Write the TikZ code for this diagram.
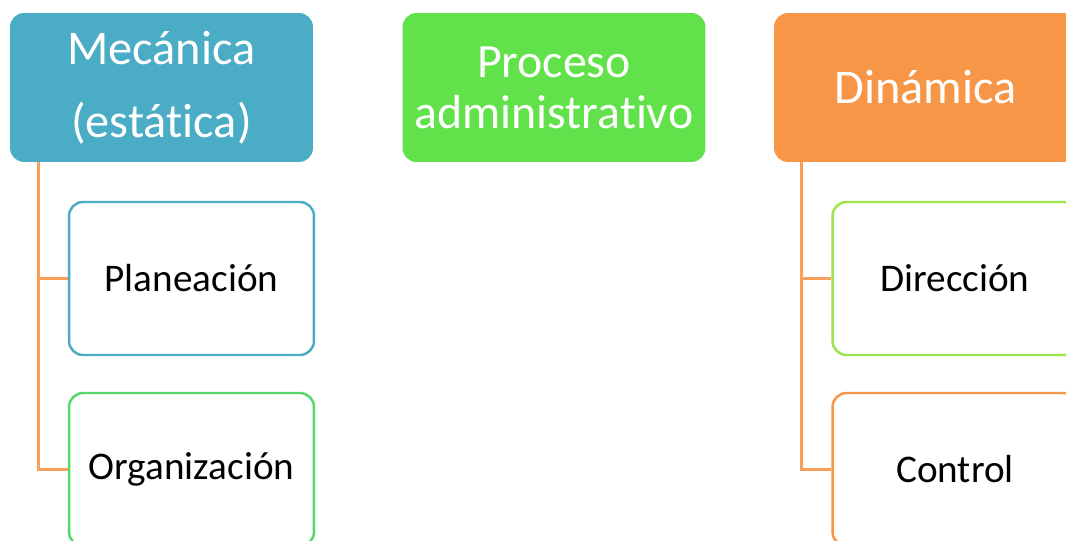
\documentclass[tikz,border=0pt]{standalone}
\usepackage{fontspec}
\setmainfont{Carlito}[Ligatures={NoCommon}]
\usepackage{tikz}
\usetikzlibrary{positioning, calc}
\definecolor{mecblue}{HTML}{4BACC6}
\definecolor{procgreen}{HTML}{62E24A}
\definecolor{dinorange}{HTML}{F79646}
\definecolor{orggreen}{HTML}{55D86A}
\definecolor{dirgreen}{HTML}{9DE34A}

\begin{document}
\begin{tikzpicture}[x=0.02cm, y=-0.02cm,
  every node/.style={font=\fontsize{22.3}{26}\selectfont},
  head/.style={rounded corners=8pt, minimum width=6.06cm, minimum height=2.98cm,
    text=white, align=center, inner sep=0pt, font=\fontsize{27.5}{41.4}\selectfont},
  child/.style={rounded corners=8pt, minimum width=4.9cm, minimum height=3.06cm,
    fill=white, line width=1.4pt, text=black, inner sep=0pt},
  link/.style={draw=dinorange!90, line width=1.6pt}]
  \useasboundingbox (0,0) rectangle (1066,541);
  \clip (0,0) rectangle (1066,541);
  \fill[white] (0,0) rectangle (1066,541);

  % Headers
  \node[head, fill=mecblue] (mec) at (161.5,87.5) {Mecánica\\(estática)};
  \node[head, fill=procgreen, font=\fontsize{27.2}{29}\selectfont] (proc) at (554,87.5) {Proceso\\administrativo};
  \node[head, fill=dinorange] (din) at (925.5,87.5) {Dinámica};

  % Left branch
  \node[child, draw=mecblue] (plan) at (191.5,278.5) {Planeación};
  \node[child, draw=orggreen] (org) at (191.5,469.5) {Organización};
  \draw[link] ($(mec.south west)+(29,0)$) |- (plan.west);
  \draw[link] ($(mec.south west)+(29,0)$) |- (org.west);

  % Right branch
  \node[child, draw=dirgreen] (dir) at (955,278.5) {Dirección};
  \node[child, draw=dinorange] (ctl) at (955,469.5) {Control};
  \draw[link] ($(din.south west)+(28,0)$) |- (dir.west);
  \draw[link] ($(din.south west)+(28,0)$) |- (ctl.west);
\end{tikzpicture}
\end{document}
